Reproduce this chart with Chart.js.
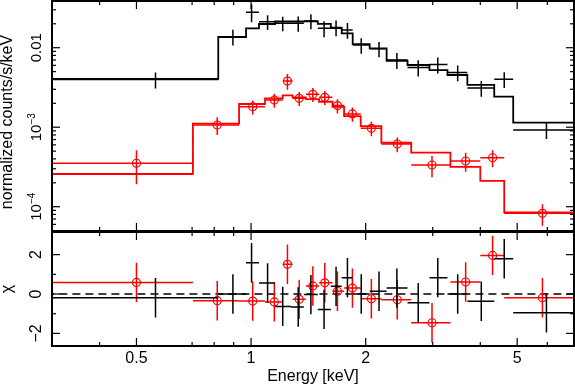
<!DOCTYPE html>
<html>
<head>
<meta charset="utf-8">
<script src="https://cdn.jsdelivr.net/npm/chart.js@4/dist/chart.umd.min.js"></script>
<style>
  body { margin: 0; background: #fff; }
  #wrap { position: relative; width: 575px; height: 386px; }
  canvas { position: absolute; left: 0; }
  #top { top: 0; }
  #bot { top: 226px; }
</style>
</head>
<body>
<div id="wrap">
  <canvas id="top" width="575" height="232"></canvas>
  <canvas id="bot" width="575" height="160"></canvas>
</div>
<script>
// energy range shown (keV)
var eMin = 0.303, eMax = 7.05;

// black spectrum: bin edges, bin centres, rates, errors, model, residuals
var blackEdges = [0.29, 0.820, 0.970, 1.049, 1.156, 1.273, 1.376, 1.497, 1.620, 1.730, 1.849,
                  2.049, 2.270, 2.576, 2.942, 3.280, 3.699, 4.352, 4.881, 7.4];
var blackE = [0.561, 0.896, 1.003, 1.105, 1.211, 1.330, 1.436, 1.555, 1.672, 1.791,
              1.947, 2.168, 2.415, 2.748, 3.093, 3.489, 4.024, 4.623, 5.968];
var blackRate = [0.00398, 0.01375, 0.0279, 0.0212, 0.0203, 0.0203, 0.0217, 0.01754, 0.01795, 0.0167,
                 0.0108, 0.00969, 0.0070, 0.00564, 0.00615, 0.00488, 0.00311, 0.00402, 0.000922];
var blackErr = [0.0009, 0.0031, 0.0070, 0.0045, 0.0042, 0.0044, 0.0046, 0.0040, 0.0040, 0.0037,
                0.0024, 0.0021, 0.0016, 0.0013, 0.0014, 0.0011, 0.0007, 0.0009, 0.00021];
var blackModel = [0.00406, 0.01364, 0.01754, 0.01987, 0.02136, 0.02136, 0.0214, 0.0199, 0.0177, 0.01517,
                  0.01113, 0.00983, 0.00686, 0.00606, 0.00524, 0.00454, 0.0034, 0.00242, 0.00114];
var blackChi = [-0.19, 0.0, 1.59, 0.56, -0.63, -0.66, -0.03, -0.78, 0.39, 0.83,
                0.0, 0.14, 0.3, -0.44, 0.83, 0.0, -0.37, 1.79, -0.95];

// red spectrum
var redEdges = [0.29, 0.7035, 0.930, 1.088, 1.211, 1.286, 1.393, 1.509, 1.636, 1.755,
                1.941, 2.199, 2.634, 3.339, 4.0, 4.623, 7.4];
var redE = [0.500, 0.815, 1.010, 1.151, 1.246, 1.338, 1.453, 1.562, 1.686, 1.846,
            2.070, 2.421, 2.987, 3.661, 4.309, 5.825];
var redRate = [0.000352, 0.001066, 0.00181, 0.0022, 0.00381, 0.00231, 0.00259, 0.00238, 0.00187, 0.00147,
               0.000969, 0.000615, 0.000335, 0.000376, 0.000413, 0.0000826];
var redErr = [0.00016, 0.00027, 0.00036, 0.00044, 0.00085, 0.00046, 0.00052, 0.00048, 0.00038, 0.0003,
              0.0002, 0.00013, 0.0001, 0.0001, 0.0001, 0.000025];
var redModel = [0.000258, 0.001113, 0.00196, 0.0023, 0.00251, 0.00238, 0.00226, 0.00209, 0.00181, 0.00138,
                0.001035, 0.000638, 0.000478, 0.000318, 0.000212, 0.0000851];
var redChi = [0.59, -0.34, -0.36, -0.40, 1.51, -0.27, 0.41, 0.57, 0.14, 0.30,
              -0.24, -0.29, -1.46, 0.61, 1.96, -0.19];

// ticks
var xTickValues = [0.5, 1, 2, 5];
var xTickLabels = ['0.5', '1', '2', '5'];
var xMinorTicks = [0.4, 0.7, 0.8, 0.9, 3, 4, 6];
var rateTickValues = [1e-4, 1e-3, 1e-2];
var rateTickLabels = [['10', '\u22124'], ['10', '\u22123'], ['0.01', '']];
var rateMinorTicks = [5e-5, 6e-5, 7e-5, 8e-5, 9e-5, 2e-4, 3e-4, 4e-4, 5e-4, 6e-4, 7e-4, 8e-4, 9e-4,
                      2e-3, 3e-3, 4e-3, 5e-3, 6e-3, 7e-3, 8e-3, 9e-3, 2e-2, 3e-2];
var chiTickValues = [-2, 0, 2];
var chiTickLabels = [['\u22122', ''], ['0', ''], ['2', '']];
var chiMinorTicks = [-1, 1];

var FONT = "'Liberation Sans', Arial, sans-serif";
Chart.defaults.font.family = FONT;
Chart.defaults.color = '#000';

function stepSet(edges, model, color) {
  var pts = model.map(function (m, i) { return { x: edges[i], y: m }; });
  pts.push({ x: edges[edges.length - 1], y: model[model.length - 1] });
  return { type: 'line', data: pts, borderColor: color, borderWidth: 1.8,
           pointRadius: 0, stepped: 'before', fill: false };
}

function pointSet(xs, ys, errs, edges, color, circles) {
  return {
    type: 'scatter',
    data: xs.map(function (x, i) {
      return { x: x, y: ys[i], xMin: edges[i], xMax: edges[i + 1],
               yMin: ys[i] - errs[i], yMax: ys[i] + errs[i] };
    }),
    barColor: color,
    pointRadius: circles ? 4 : 0,
    pointBorderColor: color,
    pointBackgroundColor: 'rgba(0,0,0,0)',
    pointBorderWidth: 1.2
  };
}

// residuals carry +-1 sigma bars
function chiSet(xs, chis, edges, color, circles) {
  var ones = chis.map(function () { return 1; });
  return pointSet(xs, chis, ones, edges, color, circles);
}

var errorBars = {
  id: 'errorBars',
  afterDatasetsDraw: function (chart) {
    var ctx = chart.ctx, a = chart.chartArea, sx = chart.scales.x, sy = chart.scales.y;
    ctx.save();
    ctx.beginPath();
    ctx.rect(a.left, a.top, a.right - a.left, a.bottom - a.top);
    ctx.clip();
    chart.data.datasets.forEach(function (ds) {
      if (!ds.barColor) return;
      ctx.strokeStyle = ds.barColor;
      ctx.lineWidth = 1.5;
      ds.data.forEach(function (p) {
        var x = sx.getPixelForValue(p.x), y = sy.getPixelForValue(p.y);
        ctx.beginPath();
        ctx.moveTo(sx.getPixelForValue(p.xMin), y);
        ctx.lineTo(sx.getPixelForValue(p.xMax), y);
        ctx.moveTo(x, sy.getPixelForValue(p.yMin));
        ctx.lineTo(x, sy.getPixelForValue(p.yMax));
        ctx.stroke();
      });
    });
    ctx.restore();
  }
};

// frame with inward ticks on all sides, rotated y labels and title
var frame = {
  id: 'frame',
  afterDraw: function (chart, args, o) {
    var ctx = chart.ctx, a = chart.chartArea, sx = chart.scales.x, sy = chart.scales.y;
    ctx.save();
    ctx.strokeStyle = '#000';
    ctx.lineWidth = 1.2;
    function seg(x1, y1, x2, y2) { ctx.beginPath(); ctx.moveTo(x1, y1); ctx.lineTo(x2, y2); ctx.stroke(); }
    function xt(vals, len) {
      vals.forEach(function (v) {
        var p = sx.getPixelForValue(v);
        seg(p, a.bottom, p, a.bottom - len); seg(p, a.top, p, a.top + len);
      });
    }
    function yt(vals, len) {
      vals.forEach(function (v) {
        var p = sy.getPixelForValue(v);
        seg(a.left, p, a.left + len, p); seg(a.right, p, a.right - len, p);
      });
    }
    xt(o.xMajor, 8); xt(o.xMinor, 4);
    yt(o.yMajor, 8); yt(o.yMinor, 4);
    ctx.lineWidth = 2;
    ctx.strokeRect(a.left, a.top, a.right - a.left, a.bottom - a.top);

    ctx.fillStyle = '#000';
    ctx.textBaseline = 'alphabetic';
    ctx.textAlign = 'left';
    var big = o.labelSize + 'px ' + FONT, small = '10px ' + FONT;
    o.yMajor.forEach(function (v, i) {
      var base = o.yLabels[i][0], exp = o.yLabels[i][1];
      ctx.save();
      ctx.translate(41, sy.getPixelForValue(v));
      ctx.rotate(-Math.PI / 2);
      ctx.font = big;
      var w1 = ctx.measureText(base).width;
      ctx.font = small;
      var w2 = exp ? ctx.measureText(exp).width : 0;
      var x0 = -(w1 + w2) / 2;
      ctx.font = big;
      ctx.fillText(base, x0, 0);
      if (exp) { ctx.font = small; ctx.fillText(exp, x0 + w1, -6); }
      ctx.restore();
    });

    // axis title
    ctx.save();
    ctx.translate(8, (a.top + a.bottom) / 2 + o.titleShift);
    ctx.rotate(-Math.PI / 2);
    ctx.font = '16px ' + FONT;
    ctx.textAlign = 'center';
    ctx.textBaseline = 'middle';
    ctx.fillText(o.title, 0, 0);
    ctx.restore();
    ctx.restore();
  }
};

new Chart(document.getElementById('top'), {
  type: 'scatter',
  data: {
    datasets: [
      pointSet(redE, redRate, redErr, redEdges, 'rgb(255,0,0)', true),
      pointSet(blackE, blackRate, blackErr, blackEdges, '#000', false),
      stepSet(redEdges, redModel, 'rgb(255,0,0)'),
      stepSet(blackEdges, blackModel, '#000')
    ]
  },
  options: {
    responsive: false, animation: false, devicePixelRatio: 1,
    layout: { autoPadding: false, padding: { top: 1, right: 1, bottom: 1, left: 0 } },
    plugins: {
      legend: { display: false }, tooltip: { enabled: false },
      frame: { xMajor: xTickValues, xMinor: xMinorTicks, yMajor: rateTickValues,
               yMinor: rateMinorTicks, yLabels: rateTickLabels, labelSize: 15,
               title: 'normalized counts/s/keV', titleShift: 6 }
    },
    scales: {
      x: { type: 'logarithmic', min: eMin, max: eMax, display: false },
      y: {
        type: 'logarithmic', min: 4.95e-5, max: 0.0387,
        grid: { display: false, drawTicks: false }, border: { display: false }, ticks: { display: false },
        afterFit: function (s) { s.width = 52; }
      }
    }
  },
  plugins: [errorBars, frame]
});

new Chart(document.getElementById('bot'), {
  type: 'scatter',
  data: {
    datasets: [
      chiSet(redE, redChi, redEdges, 'rgb(255,0,0)', true),
      chiSet(blackE, blackChi, blackEdges, '#000', false),
      { type: 'line', data: [{ x: 0.29, y: 0 }, { x: 7.4, y: 0 }], borderColor: '#000',
        borderWidth: 1.3, borderDash: [8, 5], pointRadius: 0, fill: false }
    ]
  },
  options: {
    responsive: false, animation: false, devicePixelRatio: 1,
    layout: { autoPadding: false, padding: { top: 6, right: 1, bottom: 0, left: 0 } },
    plugins: {
      legend: { display: false }, tooltip: { enabled: false },
      frame: { xMajor: xTickValues, xMinor: xMinorTicks, yMajor: chiTickValues,
               yMinor: chiMinorTicks, yLabels: chiTickLabels, labelSize: 16,
               title: '\u03c7', titleShift: 0 }
    },
    scales: {
      x: {
        type: 'logarithmic', min: eMin, max: eMax,
        grid: { display: false, drawTicks: false }, border: { display: false },
        afterBuildTicks: function (s) { s.ticks = xTickValues.map(function (v) { return { value: v }; }); },
        ticks: { autoSkip: false, maxRotation: 0, padding: 3, color: '#000', font: { size: 16 },
                 callback: function (v, i) { return xTickLabels[i]; } },
        title: { display: true, text: 'Energy [keV]', color: '#000',
                 font: { size: 16, lineHeight: 1 }, padding: { top: 0, bottom: 1 } },
        afterFit: function (s) { s.height = 40; }
      },
      y: {
        type: 'linear', min: -2.64, max: 3.15,
        grid: { display: false, drawTicks: false }, border: { display: false }, ticks: { display: false },
        afterFit: function (s) { s.width = 52; }
      }
    }
  },
  plugins: [errorBars, frame]
});
</script>
</body>
</html>
